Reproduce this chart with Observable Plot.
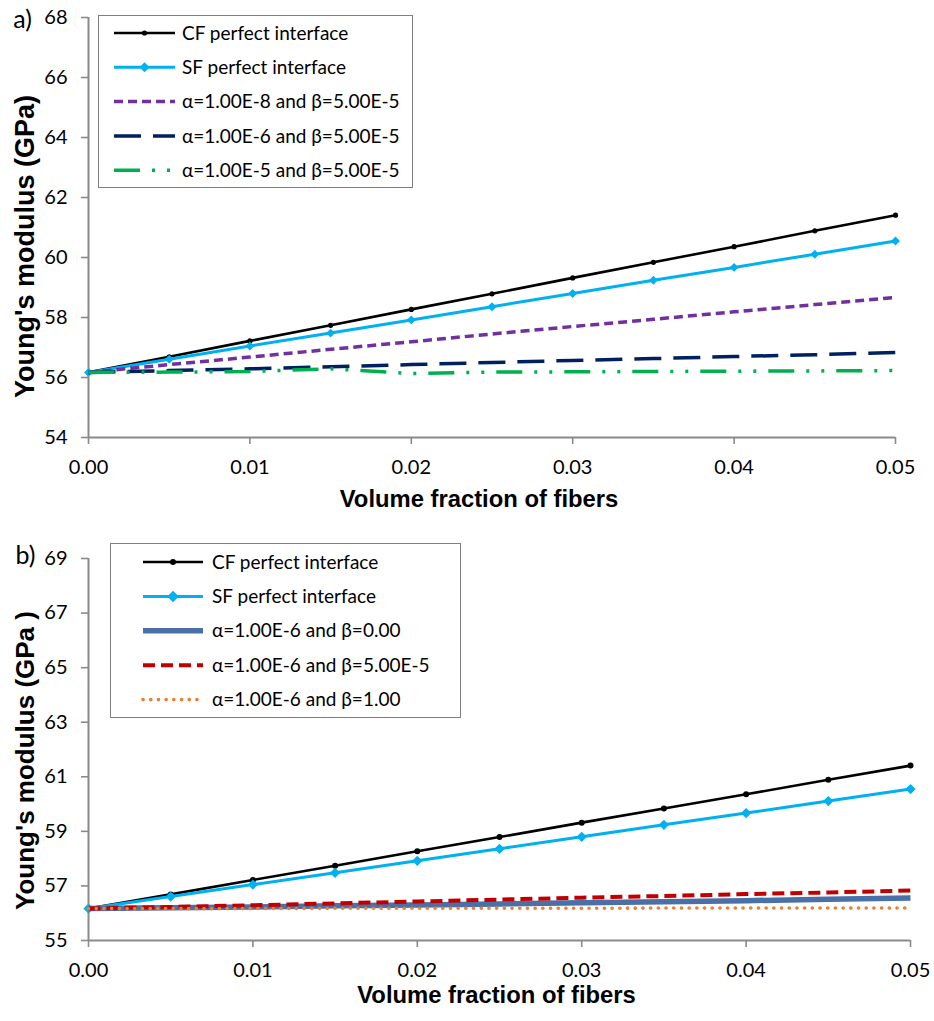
<!DOCTYPE html>
<html><head><meta charset="utf-8">
<script src="https://cdn.jsdelivr.net/npm/d3@7"></script>
<script src="https://cdn.jsdelivr.net/npm/@observablehq/plot@0.6"></script>
<style>
body{margin:0;background:#fff;}
#wrap{width:934px;height:1021px;position:relative;overflow:hidden;background:#fff;}
#wrap svg{display:block;}
</style></head><body><div id="wrap"></div>
<script>
// ---------- data ----------
const volumeFraction = [0, 0.005, 0.01, 0.015, 0.02, 0.025, 0.03, 0.035, 0.04, 0.045, 0.05];
const xTicks = [0, 0.01, 0.02, 0.03, 0.04, 0.05];
const yTicksA = [54, 56, 58, 60, 62, 64, 66, 68];
const yTicksB = [55, 57, 59, 61, 63, 65, 67, 69];

const cfPerfect = [56.17, 56.69, 57.22, 57.74, 58.27, 58.79, 59.32, 59.84, 60.36, 60.89, 61.41];
const sfPerfect = [56.17, 56.61, 57.05, 57.48, 57.92, 58.36, 58.80, 59.24, 59.67, 60.11, 60.55];
// panel a
const a1e8b5e5 = [56.17, 56.43, 56.68, 56.94, 57.19, 57.45, 57.70, 57.94, 58.19, 58.43, 58.67];
const a1e6b5e5 = [56.17, 56.23, 56.29, 56.36, 56.43, 56.50, 56.57, 56.63, 56.70, 56.76, 56.83];
const a1e5b5e5 = [56.17, 56.18, 56.20, 56.29, 56.13, 56.18, 56.19, 56.20, 56.21, 56.22, 56.23];
// panel b
const b1e6b0   = [56.17, 56.20, 56.23, 56.27, 56.30, 56.34, 56.38, 56.42, 56.46, 56.51, 56.56];
const b1e6b5e5 = [56.17, 56.23, 56.29, 56.36, 56.43, 56.50, 56.57, 56.63, 56.70, 56.76, 56.83];
const b1e6b1   = [56.17, 56.17, 56.17, 56.18, 56.18, 56.18, 56.18, 56.19, 56.19, 56.19, 56.19];

const namesA = ["CF perfect interface", "SF perfect interface", "α=1.00E-8 and β=5.00E-5", "α=1.00E-6 and β=5.00E-5", "α=1.00E-5 and β=5.00E-5"];
const namesB = ["CF perfect interface", "SF perfect interface", "α=1.00E-6 and β=0.00", "α=1.00E-6 and β=5.00E-5", "α=1.00E-6 and β=1.00"];
const xLabel = "Volume fraction of fibers";
const yLabelA = "Young's modulus (GPa)";
const yLabelB = "Young's modulus (GPa )";

// ---------- styles ----------
const FONT = "Lato, 'Open Sans', sans-serif";
const AXIS = "#8a8a8a";
const stCF = {color: "#000000", width: 2.6, dash: null, cap: "butt", marker: "dot", mr: 2.6};
const stSF = {color: "#00B0F0", width: 3, dash: null, cap: "butt", marker: "diamond", mr: 4};
const stA = [
  {color: "#7030A0", width: 3.5, dash: "9,5", cap: "butt"},
  {color: "#002060", width: 3.5, dash: "27,12", cap: "butt"},
  {color: "#00B050", width: 3.5, dash: "26,12,3,12,3,12", cap: "butt"}
];
const stB = [
  {color: "#4A70A8", width: 5.5, dash: null, cap: "butt"},
  {color: "#C00000", width: 4, dash: "12,6", cap: "butt"},
  {color: "#ED7D31", width: 3.6, dash: "0.1,7.6", cap: "round"}
];

function rows(values) { return volumeFraction.map((x, i) => ({x, y: values[i]})); }

function panel({series, yDomain, yTicks, height, mt, mb, mr, yLabel, yLabelDy, yLabelSize, xLabelDx, xLabelDy, tag, tagDx, tagDy, legend}) {
  const marks = [
    Plot.ruleY([yDomain[0]], {stroke: AXIS, strokeWidth: 2}),
    Plot.ruleX([0], {stroke: AXIS, strokeWidth: 2}),
    Plot.axisX({ticks: xTicks, tickFormat: d3.format(".2f"), tickSize: 7, tickPadding: 15, stroke: AXIS, strokeWidth: 1.6, fill: "#000", fontSize: 20, label: null}),
    Plot.axisY({ticks: yTicks, tickFormat: d3.format("d"), tickSize: 7, tickPadding: 14, stroke: AXIS, strokeWidth: 1.6, fill: "#000", fontSize: 20, label: null}),
  ];
  for (const s of series) {
    const d = rows(s.values);
    marks.push(Plot.line(d, {x: "x", y: "y", stroke: s.st.color, strokeWidth: s.st.width,
      strokeDasharray: s.st.dash || undefined, strokeLinecap: s.st.cap, strokeLinejoin: "round"}));
    if (s.st.marker === "dot") marks.push(Plot.dot(d, {x: "x", y: "y", r: s.st.mr, fill: s.st.color, stroke: "none"}));
    if (s.st.marker === "diamond") marks.push(Plot.dot(d, {x: "x", y: "y", r: s.st.mr, symbol: "diamond2", fill: s.st.color, stroke: "none"}));
  }
  marks.push(
    Plot.text([xLabel], {frameAnchor: "bottom", dx: xLabelDx, dy: xLabelDy, text: d => d, textAnchor: "middle", lineAnchor: "middle", fontSize: 23.8, fontWeight: "bold", fontFamily: "'Liberation Sans', Arial, sans-serif", fill: "#000"}),
    Plot.text([yLabel], {frameAnchor: "left", dx: -63, dy: yLabelDy, rotate: -90, text: d => d, textAnchor: "middle", lineAnchor: "middle", fontSize: yLabelSize, fontWeight: "bold", fontFamily: "'Liberation Sans', Arial, sans-serif", fill: "#000"}),
    Plot.text([tag], {frameAnchor: "top-left", dx: tagDx, dy: tagDy, text: d => d, fontSize: 25, fill: "#000", textAnchor: "middle", lineAnchor: "middle"})
  );
  const svg = Plot.plot({
    width: 934, height, marginLeft: 88, marginRight: mr, marginTop: mt, marginBottom: mb,
    x: {domain: [0, 0.05]},
    y: {domain: yDomain},
    style: {fontFamily: FONT, fontSize: "20px", color: "#000", background: "#fff", overflow: "visible"},
    marks
  });
  drawLegend(svg, series, legend);
  return svg;
}

function drawLegend(svg, series, L) {
  const g = d3.select(svg).append("g").attr("text-anchor", "start");
  g.append("rect").attr("x", L.x + 0.5).attr("y", L.y + 0.5).attr("width", L.w).attr("height", L.h)
    .attr("fill", "#fff").attr("stroke", "#7f7f7f").attr("stroke-width", 1);
  series.forEach((s, i) => {
    const cy = L.y + L.first + i * L.step;
    g.append("line").attr("x1", L.sx).attr("x2", L.sx + L.sw).attr("y1", cy).attr("y2", cy)
      .attr("stroke", s.st.color).attr("stroke-width", s.st.width)
      .attr("stroke-dasharray", s.st.dash || null).attr("stroke-linecap", s.st.cap);
    const mx = L.sx + L.sw / 2;
    if (s.st.marker === "dot") g.append("circle").attr("cx", mx).attr("cy", cy).attr("r", s.st.mr).attr("fill", s.st.color);
    if (s.st.marker === "diamond") {
      const h = s.st.mr * 1.25;
      g.append("path").attr("d", `M${mx},${cy - h}L${mx + h},${cy}L${mx},${cy + h}L${mx - h},${cy}Z`).attr("fill", s.st.color);
    }
    g.append("text").attr("x", L.tx).attr("y", cy).attr("dy", "0.35em").attr("text-anchor", "start")
      .attr("font-family", FONT).attr("font-size", 19).attr("fill", "#000").text(s.name);
  });
}

const seriesA = [
  {name: namesA[0], values: cfPerfect, st: stCF},
  {name: namesA[1], values: sfPerfect, st: stSF},
  {name: namesA[2], values: a1e8b5e5, st: stA[0]},
  {name: namesA[3], values: a1e6b5e5, st: stA[1]},
  {name: namesA[4], values: a1e5b5e5, st: stA[2]},
];
const seriesB = [
  {name: namesB[0], values: cfPerfect, st: {...stCF, mr: 3}},
  {name: namesB[1], values: sfPerfect, st: {...stSF, mr: 4.6}},
  {name: namesB[2], values: b1e6b0, st: stB[0]},
  {name: namesB[3], values: b1e6b5e5, st: stB[1]},
  {name: namesB[4], values: b1e6b1, st: stB[2]},
];

const wrap = document.getElementById("wrap");
wrap.appendChild(panel({
  series: seriesA, yDomain: [54, 68], yTicks: yTicksA, height: 515, mt: 17, mb: 78, mr: 39,
  yLabel: yLabelA, yLabelDy: 19, yLabelSize: 27, xLabelDx: -13, xLabelDy: 62, tag: "a)", tagDx: -66, tagDy: 2,
  legend: {x: 98, y: 15, w: 314, h: 172, first: 18, step: 34.3, sx: 114, sw: 61, tx: 182}
}));
wrap.appendChild(panel({
  series: seriesB, yDomain: [55, 69], yTicks: yTicksB, height: 506, mt: 43, mb: 81, mr: 24,
  yLabel: yLabelB, yLabelDy: 11, yLabelSize: 26, xLabelDx: -3, xLabelDy: 55, tag: "b)", tagDx: -63, tagDy: -3,
  legend: {x: 110, y: 28, w: 350, h: 174, first: 19, step: 34.4, sx: 143, sw: 60, tx: 212}
}));
</script></body></html>
